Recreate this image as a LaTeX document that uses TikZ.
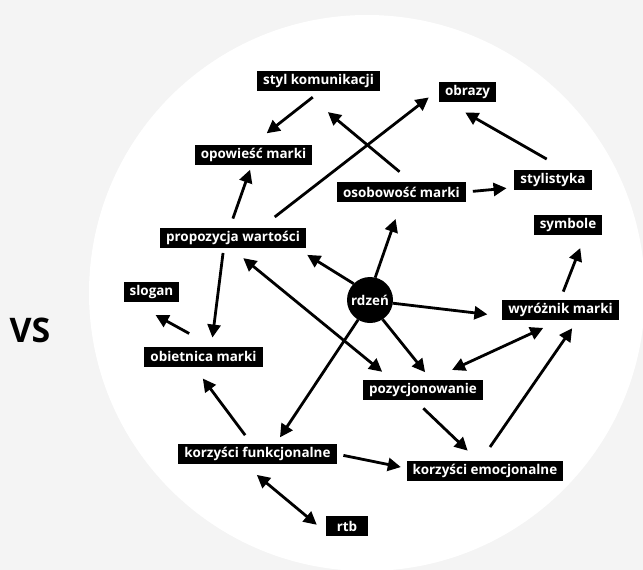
\documentclass[tikz,border=0pt]{standalone}
\usepackage{fontspec}
\setmainfont{Open Sans}
\usetikzlibrary{arrows.meta}

\definecolor{bggray}{HTML}{F4F4F4}

\begin{document}
\begin{tikzpicture}[
  x=1bp,y=-1bp,
  line width=2.8bp,
  % every term is a white word on a black bar
  term/.style={fill=black,text=white,font=\bfseries\fontsize{13.5}{15}\selectfont,
    inner xsep=6bp,inner ysep=0pt,minimum height=20bp,outer sep=0pt},
  core/.style={circle,fill=black,text=white,font=\bfseries\fontsize{13.5}{15}\selectfont,
    minimum size=46bp,inner sep=0pt,outer sep=0pt},
  arr/.style={-{Triangle[length=13bp,width=13bp]}},
  biarr/.style={{Triangle[length=13bp,width=13bp]}-{Triangle[length=13bp,width=13bp]}},
]

%--- canvas ------------------------------------------------------------------
\useasboundingbox (0,0) rectangle (643,570);
\fill[bggray] (0,0) rectangle (643,570);
\begin{scope}
  \clip (0,0) rectangle (643,570);
  \fill[white] (367,293) circle (278);
\end{scope}

\node[font=\bfseries\fontsize{34}{38}\selectfont] (vs) at (30,330) {VS};

%--- terms -------------------------------------------------------------------
\node[core] (rdzen) at (370,300) {rdzeń};

\node[term] (styl)   at (318.5,81)  {styl komunikacji};
\node[term] (obrazy) at (467.5,92.5) {obrazy};
\node[term] (opow)   at (253.5,155) {opowieść marki};
\node[term] (osob)   at (401.5,192) {osobowość marki};
\node[term] (styli)  at (553,180)   {stylistyka};
\node[term] (prop)   at (233,238)   {propozycja wartości};
\node[term] (symb)   at (568,225)   {symbole};
\node[term] (slogan) at (151.5,292) {slogan};
\node[term] (wyr)    at (560.5,310) {wyróżnik marki};
\node[term] (obiet)  at (203.5,356.5) {obietnica marki};
\node[term] (pozy)   at (423,390)   {pozycjonowanie};
\node[term] (kfun)   at (257.5,454) {korzyści funkcjonalne};
\node[term] (kemo)   at (485,471)   {korzyści emocjonalne};
\node[term,minimum width=42bp] (rtb) at (347,526) {rtb};

%--- connectors --------------------------------------------------------------
% upper part
\draw[arr,shorten <=10bp,shorten >=19bp] (styl.-78) -- (opow.100);
\draw[arr,shorten <=16bp,shorten >=33bp] (osob.44) -- (styl.-148);
\draw[arr,shorten <=18bp,shorten >=13bp] (prop.20) -- (obrazy.174);
\draw[arr,shorten <=22bp,shorten >=20bp] (styli.38) -- (obrazy.-153);
\draw[arr,shorten <=10bp,shorten >=5bp]  (prop.109) -- (opow.-100);
\draw[arr,shorten <=7bp,shorten >=8bp]   (osob.east) -- (styli.191);

% out of the core
\draw[arr,shorten >=18bp] (rdzen.77) -- (osob.south);
\draw[arr,shorten >=15bp] (rdzen.-8) -- (wyr.186);
\draw[arr,shorten >=10bp] (rdzen.-57) -- (pozy.50);
\draw[arr,shorten >=13bp] (rdzen.135) -- (prop.-9);
\draw[arr,shorten >=8bp]  (rdzen.-121) -- (kfun.29);

% the rest
\draw[arr,shorten <=9bp,shorten >=14bp]    (wyr.93) -- (symb.-30);
\draw[biarr,shorten <=16bp,shorten >=13bp] (prop.-102) -- (pozy.162);
\draw[biarr,shorten <=24bp,shorten >=19bp] (pozy.54) -- (wyr.south);
\draw[arr,shorten <=5bp,shorten >=9bp]     (prop.-133) -- (obiet.52);
\draw[arr,shorten <=27bp,shorten >=27bp]   (obiet.47) -- (slogan.-153);
\draw[arr,shorten <=11bp,shorten >=15bp]   (kfun.120) -- (obiet.-134);
\draw[arr,shorten <=7bp,shorten >=6bp]     (kfun.east) -- (kemo.178);
\draw[biarr,shorten <=17bp,shorten >=12bp] (kfun.-144) -- (rtb.197);
\draw[arr,shorten <=12bp,shorten >=15bp]   (pozy.-130) -- (kemo.123);
\draw[arr,shorten <=17bp,shorten >=10bp]   (kemo.115) -- (wyr.-30);

\end{tikzpicture}
\end{document}
